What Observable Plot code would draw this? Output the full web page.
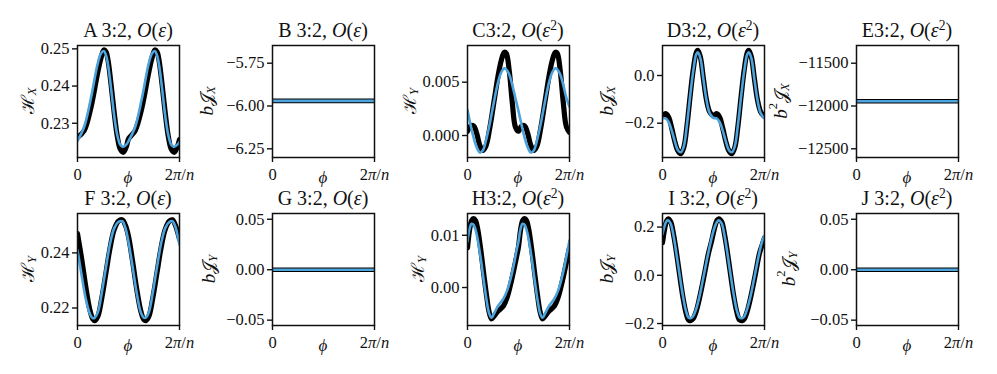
<!DOCTYPE html>
<html><head><meta charset="utf-8">
<script src="https://cdn.jsdelivr.net/npm/d3@7"></script>
<script src="https://cdn.jsdelivr.net/npm/@observablehq/plot@0.6"></script>
<style>
html,body{margin:0;padding:0;background:#fff;}
#chart{position:relative;width:997px;height:374px;overflow:hidden;font-family:"Liberation Serif",serif;color:#111;}
#chart svg{position:absolute;background:transparent;overflow:visible;max-width:none;}
.ttl{position:absolute;font-size:20px;white-space:pre;transform:translate(-50%,-50%);line-height:1;}
.ttl sup{font-size:0.68em;vertical-align:0.55em;line-height:0;}
</style></head><body><div id="chart"></div>
<script>
// ---------------- data (x in units of 2π/n) ----------------
const aX = [0,0.065,0.13,0.196,0.229,0.258,0.28,0.30,0.33,0.36,0.39,0.42,0.45,0.48,0.5,0.565,0.63,0.696,0.729,0.758,0.78,0.80,0.83,0.86,0.89,0.92,0.95,0.98,1.0];
const aBlack = [0.2262,0.2280,0.2340,0.2433,0.2474,0.2497,0.2492,0.2468,0.2402,0.2328,0.2265,0.2230,0.2222,0.2238,0.2258,0.2280,0.2340,0.2433,0.2474,0.2497,0.2492,0.2468,0.2402,0.2328,0.2265,0.2230,0.2222,0.2238,0.2256];
const aBlue = [0.2253,0.2290,0.2365,0.2458,0.2487,0.2494,0.2482,0.2456,0.2392,0.2320,0.2268,0.2242,0.2237,0.2243,0.2252,0.2290,0.2365,0.2458,0.2487,0.2494,0.2482,0.2456,0.2392,0.2320,0.2268,0.2242,0.2237,0.2243,0.2250];

const bX = [0,1];
const bBlack = [-5.97,-5.97];
const bBlue = [-5.97,-5.97];

const cX = [0,0.03,0.06,0.09,0.12,0.15,0.18,0.22,0.26,0.30,0.33,0.36,0.38,0.41,0.44,0.47,0.50,0.53,0.56,0.59,0.62,0.65,0.68,0.72,0.76,0.80,0.83,0.86,0.88,0.91,0.94,0.97,1.0];
const cBlack = [0.0004,0.0009,0.0009,0.0002,-0.0009,-0.0014,-0.0010,0.0008,0.0032,0.0056,0.0070,0.0078,0.0077,0.0060,0.0030,0.0008,0.0004,0.0009,0.0009,0.0002,-0.0009,-0.0014,-0.0010,0.0008,0.0032,0.0056,0.0070,0.0078,0.0077,0.0060,0.0030,0.0008,0.0003];
const cBlue = [0.0024,0.0010,-0.0002,-0.0011,-0.0016,-0.0014,-0.0005,0.0012,0.0032,0.0050,0.0059,0.0063,0.0062,0.0057,0.0047,0.0035,0.0023,0.0010,-0.0002,-0.0011,-0.0016,-0.0014,-0.0005,0.0012,0.0032,0.0050,0.0059,0.0063,0.0062,0.0057,0.0047,0.0035,0.0027];

const dX = [0,0.03,0.06,0.09,0.12,0.15,0.18,0.21,0.24,0.27,0.30,0.33,0.345,0.37,0.40,0.43,0.46,0.49,0.50,0.53,0.56,0.59,0.62,0.65,0.68,0.71,0.74,0.77,0.80,0.83,0.845,0.87,0.90,0.93,0.96,0.99,1.0];
const dBlack = [-0.170,-0.160,-0.175,-0.220,-0.275,-0.315,-0.328,-0.300,-0.210,-0.090,0.020,0.095,0.105,0.080,-0.010,-0.100,-0.150,-0.167,-0.170,-0.160,-0.175,-0.220,-0.275,-0.315,-0.328,-0.300,-0.210,-0.090,0.020,0.095,0.105,0.080,-0.010,-0.100,-0.150,-0.168,-0.172];
const dBlue = [-0.178,-0.180,-0.195,-0.230,-0.275,-0.312,-0.322,-0.295,-0.205,-0.090,0.015,0.088,0.097,0.075,-0.012,-0.100,-0.155,-0.175,-0.178,-0.180,-0.195,-0.230,-0.275,-0.312,-0.322,-0.295,-0.205,-0.090,0.015,0.088,0.097,0.075,-0.012,-0.100,-0.155,-0.175,-0.178];

const eX = [0,1];
const eBlack = [-11945,-11945];
const eBlue = [-11945,-11945];

const fX = [0,0.04,0.08,0.12,0.15,0.17,0.20,0.24,0.28,0.32,0.36,0.40,0.44,0.47,0.50,0.54,0.58,0.62,0.65,0.67,0.70,0.74,0.78,0.82,0.86,0.90,0.93,0.96,1.0];
const fBlack = [0.2470,0.2380,0.2280,0.2195,0.2160,0.2154,0.2170,0.2240,0.2330,0.2420,0.2485,0.2515,0.2520,0.2500,0.2460,0.2370,0.2270,0.2190,0.2158,0.2154,0.2170,0.2240,0.2330,0.2420,0.2485,0.2515,0.2520,0.2500,0.2450];
const fBlue = [0.2410,0.2320,0.2235,0.2180,0.2163,0.2165,0.2185,0.2260,0.2350,0.2435,0.2490,0.2512,0.2515,0.2490,0.2440,0.2350,0.2255,0.2185,0.2165,0.2165,0.2185,0.2260,0.2350,0.2435,0.2490,0.2512,0.2515,0.2495,0.2430];

const gX = [0,1];
const gBlack = [0,0];
const gBlue = [0,0];

const hX = [0,0.02,0.04,0.06,0.08,0.10,0.13,0.16,0.19,0.21,0.235,0.26,0.30,0.35,0.39,0.42,0.45,0.48,0.50,0.52,0.54,0.56,0.58,0.60,0.63,0.66,0.69,0.71,0.735,0.76,0.80,0.85,0.89,0.92,0.95,0.98,1.0];
const hBlack = [0.0076,0.0110,0.0128,0.0132,0.0128,0.0112,0.0072,0.0025,-0.0020,-0.0045,-0.0060,-0.0055,-0.0045,-0.0036,-0.0018,0.0004,0.0030,0.0058,0.0078,0.0110,0.0128,0.0132,0.0128,0.0112,0.0072,0.0025,-0.0020,-0.0045,-0.0060,-0.0055,-0.0045,-0.0036,-0.0018,0.0004,0.0030,0.0058,0.0076];
const hBlue = [0.0088,0.0112,0.0122,0.0120,0.0110,0.0092,0.0055,0.0012,-0.0028,-0.0048,-0.0058,-0.0050,-0.0035,-0.0022,-0.0005,0.0015,0.0040,0.0070,0.0088,0.0112,0.0122,0.0120,0.0110,0.0092,0.0055,0.0012,-0.0028,-0.0048,-0.0058,-0.0050,-0.0035,-0.0022,-0.0005,0.0015,0.0040,0.0070,0.0090];

const iX = [0,0.02,0.04,0.055,0.08,0.11,0.14,0.17,0.20,0.23,0.255,0.275,0.30,0.33,0.36,0.39,0.42,0.45,0.48,0.51,0.535,0.552,0.58,0.61,0.64,0.67,0.70,0.73,0.755,0.78,0.80,0.83,0.86,0.89,0.92,0.95,0.98,1.0];
const iBlack = [0.135,0.190,0.225,0.234,0.222,0.165,0.085,-0.005,-0.090,-0.155,-0.185,-0.188,-0.180,-0.150,-0.100,-0.040,0.025,0.090,0.140,0.195,0.228,0.234,0.222,0.165,0.085,-0.005,-0.090,-0.155,-0.185,-0.188,-0.182,-0.150,-0.100,-0.040,0.025,0.090,0.130,0.155];
const iBlue = [0.170,0.205,0.225,0.228,0.215,0.160,0.080,-0.005,-0.085,-0.148,-0.175,-0.178,-0.170,-0.140,-0.092,-0.032,0.032,0.095,0.152,0.198,0.222,0.228,0.215,0.160,0.080,-0.005,-0.085,-0.148,-0.175,-0.178,-0.172,-0.140,-0.092,-0.032,0.032,0.095,0.145,0.165];

const jX = [0,1];
const jBlack = [0,0];
const jBlue = [0,0];

// tick values / labels
const xTicks = [0, 1];
const xTickLabels = ["0", "2π/n"];
const xLabel = "\u03D5";
const aTicks = [0.23,0.24,0.25], bTicks = [-6.25,-6.00,-5.75], cTicks = [0,0.005], dTicks = [-0.2,0],
      eTicks = [-12500,-12000,-11500], fTicks = [0.22,0.24], gTicks = [-0.05,0,0.05], hTicks = [0,0.01],
      iTicks = [-0.2,0,0.2], jTicks = [-0.05,0,0.05];

// ---------------- layout ----------------
const W = 102, H = 112;
const ML = 95, MR = 30, MT = 40, MB = 40;
const colLeft = [77, 272, 467, 662, 856];
const rowTop = [45, 213];
const BLUE = "#4da3dc";

const O1 = "<i>O</i>(<i>ε</i>)";
const O2 = "<i>O</i>(<i>ε</i><sup>2</sup>)";
const H_ = (s) => [{t:"ℋ"},{t:s,sub:true}];
const BJ = (s) => [{t:"b",it:true},{t:"𝒥"},{t:s,sub:true}];
const B2J = (s) => [{t:"b",it:true},{t:"2",sup:true},{t:"𝒥"},{t:s,sub:true}];

const panels = [
  {title:"A 3:2, "+O1, ylab:H_("X"), x:aX, k:aBlack, b:aBlue, dom:[0.2208,0.2509], ticks:aTicks, dec:2, col:0,row:0, lo:50},
  {title:"B 3:2, "+O1, ylab:BJ("X"), x:bX, k:bBlack, b:bBlue, dom:[-6.3008,-5.6466], ticks:bTicks, dec:2, col:1,row:0, lo:66, flat:true},
  {title:"C3:2, "+O2, ylab:H_("Y"), x:cX, k:cBlack, b:cBlue, dom:[-0.00206,0.00844], ticks:cTicks, dec:3, col:2,row:0, lo:58},
  {title:"D3:2, "+O2, ylab:BJ("X"), x:dX, k:dBlack, b:dBlue, dom:[-0.3438,0.1258], ticks:dTicks, dec:1, col:3,row:0, lo:56},
  {title:"E3:2, "+O2, ylab:B2J("X"), x:eX, k:eBlack, b:eBlue, dom:[-12602,-11293], ticks:eTicks, dec:0, col:4,row:0, lo:76, flat:true},
  {title:"F 3:2, "+O1, ylab:H_("Y"), x:fX, k:fBlack, b:fBlue, dom:[0.21365,0.2543], ticks:fTicks, dec:2, col:0,row:1, lo:50},
  {title:"G 3:2, "+O1, ylab:BJ("Y"), x:gX, k:gBlack, b:gBlue, dom:[-0.0553,0.0557], ticks:gTicks, dec:2, col:1,row:1, lo:64, flat:true},
  {title:"H3:2, "+O2, ylab:H_("Y"), x:hX, k:hBlack, b:hBlue, dom:[-0.00727,0.01417], ticks:hTicks, dec:2, col:2,row:1, lo:50},
  {title:"I 3:2, "+O2, ylab:BJ("Y"), x:iX, k:iBlack, b:iBlue, dom:[-0.2082,0.2563], ticks:iTicks, dec:1, col:3,row:1, lo:56},
  {title:"J 3:2, "+O2, ylab:B2J("Y"), x:jX, k:jBlack, b:jBlue, dom:[-0.0553,0.0557], ticks:jTicks, dec:2, col:4,row:1, lo:68, flat:true}
];

const fmt = (dec) => d => (d < 0 ? "\u2212" : "") + Math.abs(d).toFixed(dec);
const chart = document.getElementById("chart");

for (const p of panels) {
  const data = p.x.map((x, i) => ({x, black: p.k[i], blue: p.b[i]}));
  const fl = colLeft[p.col];
  const ft = rowTop[p.row];
  const svg = Plot.plot({
    width: ML + W + MR, height: MT + H + MB,
    marginLeft: ML, marginRight: MR, marginTop: MT, marginBottom: MB,
    style: {fontFamily: "'Liberation Serif', serif", fontSize: "16.5px", color: "#111", background: "transparent", overflow: "visible"},
    x: {domain: [0, 1]},
    y: {domain: p.dom},
    marks: [
      Plot.lineY(data, {x: "x", y: "black", stroke: "#000", strokeWidth: p.flat ? 4.6 : 5.2, curve: "catmull-rom", clip: true}),
      Plot.lineY(data, {x: "x", y: "blue", stroke: BLUE, strokeWidth: 2.6, curve: "catmull-rom", clip: true}),
      Plot.frame({stroke: "#111", strokeWidth: 1.5}),
      Plot.axisY({ticks: p.ticks, tickFormat: fmt(p.dec), tickSize: 5, tickPadding: 3, strokeWidth: 1.4, label: null}),
      Plot.axisX({ticks: xTicks, tickFormat: (d) => xTickLabels[xTicks.indexOf(d)], tickSize: 5, tickPadding: 6, strokeWidth: 1.4, label: null})
    ]
  });
  svg.style.left = (fl - ML) + "px";
  svg.style.top = (ft - MT) + "px";
  const s = d3.select(svg);
  // italic π and n in "2π/n"
  s.selectAll("text").each(function() {
    if (this.textContent === "2π/n") {
      const t = d3.select(this); t.text("");
      t.append("tspan").text("2");
      t.append("tspan").attr("font-style", "italic").text("π");
      t.append("tspan").text("/");
      t.append("tspan").attr("font-style", "italic").text("n");
    }
  });
  // x label ϕ
  s.append("text").attr("x", ML + W / 2).attr("y", MT + H + 26)
    .attr("text-anchor", "middle").attr("font-style", "italic").attr("font-size", 17)
    .attr("font-family", "'Liberation Serif', 'DejaVu Serif', serif").attr("fill", "#111").text(xLabel);
  // y label
  const yl = s.append("text").attr("transform", `translate(${ML - p.lo},${MT + H / 2}) rotate(-90)`)
    .attr("text-anchor", "middle").attr("dominant-baseline", "central")
    .attr("font-family", "'DejaVu Serif', 'Liberation Serif', serif").attr("font-size", 18).attr("fill", "#111");
  let shift = 0;
  for (const seg of p.ylab) {
    const ts = yl.append("tspan").text(seg.t);
    let target = 0;
    if (seg.sub) { target = 5; ts.attr("font-size", 12.5).attr("font-style", "italic").attr("font-family", "'Liberation Serif', serif"); }
    else if (seg.sup) { target = -7; ts.attr("font-size", 12.5).attr("font-family", "'Liberation Serif', serif"); }
    if (seg.it) ts.attr("font-style", "italic").attr("font-family", "'Liberation Serif', serif").attr("font-size", 19);
    ts.attr("dy", target - shift); shift = target;
  }
  chart.appendChild(svg);
  const tt = document.createElement("div");
  tt.className = "ttl";
  tt.innerHTML = p.title;
  tt.style.left = (fl + W / 2) + "px";
  tt.style.top = (ft - 15) + "px";
  chart.appendChild(tt);
}
</script></body></html>
